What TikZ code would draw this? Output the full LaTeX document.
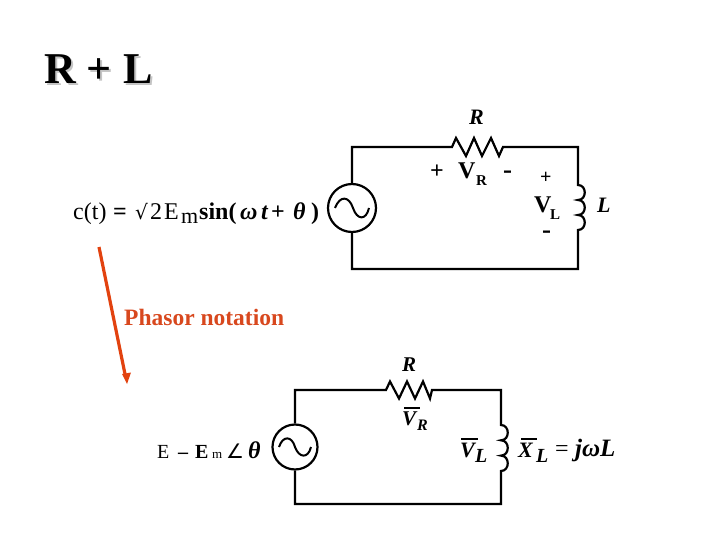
\documentclass[tikz,border=0pt]{standalone}
\usepackage{fontspec}
\setmainfont{Liberation Serif}
\newfontfamily\symfont{DejaVu Sans}
\definecolor{arrowred}{HTML}{E2420F}
\definecolor{phasor}{HTML}{D8481E}
\definecolor{shadowgray}{HTML}{C4C4C4}
\tikzset{
  wire/.style={line width=2.2pt,black,line join=miter},
  bar/.style={line width=1.1pt,black},
  lbl/.style={inner sep=0pt,anchor=base west,font=\fontsize{#1}{#1}\selectfont},
  lblb/.style={inner sep=0pt,anchor=base west,font=\fontsize{#1}{#1}\selectfont\bfseries},
  lbli/.style={inner sep=0pt,anchor=base west,font=\fontsize{#1}{#1}\selectfont\bfseries\itshape},
  srccirc/.style={circle,draw,line width=2.2pt,inner sep=0pt,minimum size=#1}
}
\begin{document}
\begin{tikzpicture}[x=1pt,y=-1pt]
\useasboundingbox (0,0) rectangle (720,540);
% title
\node[lblb=44,text=shadowgray] at (46,86) {R + L};
\node[lblb=44] (title) at (44,84) {R + L};

% upper circuit
\node[srccirc=48pt] (s1) at (352,208) {};
\coordinate (tl1) at (351,147);
\coordinate (bl1) at (351,269);
\coordinate (tr1) at (578,147);
\coordinate (br1) at (578,269);
\coordinate (r1a) at (452,147);
\coordinate (r1b) at (503,147);
\coordinate (l1a) at (578,185);
\coordinate (l1b) at (578,230);
\draw[wire] (s1.north) -- (s1.north |- tl1) -- (r1a)
  -- (456,138) -- (466,156) -- (474,138) -- (482,156) -- (491,138) -- (499,156) -- (r1b)
  -- (tr1) -- (l1a)
  .. controls (587,185) and (587,200) .. (578,200)
  .. controls (587,200) and (587,215) .. (578,215)
  .. controls (587,215) and (587,230) .. (l1b)
  -- (br1) -- (s1.south |- br1) -- (s1.south);
\draw[line width=2pt] (335,208) .. controls (340,195) and (349,196) .. (353,208)
  .. controls (357,220) and (366,221) .. (369,208);
\node[lbli=22] (R1) at (469,125) {R};
\node[lblb=24] (p1) at (430,179) {+};
\node[lblb=24] (VR1) at (458,179) {V};
\node[lblb=15] (VRs) at (476,186) {R};
\node[lblb=27] (m1) at (503,179) {-};
\node[lblb=20] (p2) at (540,184) {+};
\node[lblb=24] (VL1) at (534,213) {V};
\node[lblb=15] (VLs) at (550,219) {L};
\node[lblb=27] (m2) at (542,238) {-};
\node[lbli=22] (L1) at (597,212) {L};

% upper equation
\node[lbl=24] (c) at (73,219) {c(t)};
\node[lblb=24] (eq) at (113,219) {=};
\node[lbl=20] (rt) at (135,219) {\symfont\fontsize{20}{20}\selectfont √};
\node[lbl=24] (two) at (150,219) {2};
\node[lbl=24] (E) at (164,219) {E};
\node[lbl=22] (m) at (181,223) {m};
\node[lblb=24] (sin) at (199,219) {sin(};
\node[lbli=24] (om) at (240,219) {ω};
\node[lbli=24] (t) at (261,219) {t};
\node[lblb=24] (pl) at (271,219) {+};
\node[lbli=24] (th) at (293,219) {θ};
\node[lblb=24] (cp) at (311,219) {)};

% phasor arrow and label
\coordinate (a1) at (99,247);
\coordinate (a2) at (127,384);
\draw[arrowred,line width=3.2pt] (a1) -- (125.6,377);
\fill[arrowred] (a2) -- (122,374) -- (131,372.5) -- cycle;
\node[lblb=23.5,text=phasor] (ph) at (124,325) {Phasor notation};

% lower circuit
\node[srccirc=45pt] (s2) at (295,447) {};
\coordinate (tl2) at (295,390);
\coordinate (bl2) at (295,504);
\coordinate (tr2) at (501,390);
\coordinate (br2) at (501,504);
\coordinate (r2a) at (386,390);
\coordinate (r2b) at (432,390);
\coordinate (l2a) at (501,425);
\coordinate (l2b) at (501,471);
\draw[wire] (s2.north) -- (tl2) -- (r2a)
  -- (390,381.5) -- (399,398.5) -- (407,381.5) -- (415,398.5) -- (423,381.5) -- (430,398.5) -- (r2b)
  -- (tr2) -- (l2a)
  .. controls (510,425) and (510,440.3) .. (501,440.3)
  .. controls (510,440.3) and (510,455.6) .. (501,455.6)
  .. controls (510,455.6) and (510,471) .. (l2b)
  -- (br2) -- (bl2) -- (s2.south);
\draw[line width=2pt] (279,447) .. controls (283,435) and (292,436) .. (295,447)
  .. controls (299,458) and (308,459) .. (311,447);
\node[lbli=21] (R2) at (402,371) {R};
\node[lbli=21] (VR2) at (402,425) {V};
\draw[bar] (404,408) -- (420,408);
\node[lbli=16] (VR2s) at (417,430) {R};
\node[lbli=22] (VL2) at (460,457) {V};
\draw[bar] (461,439) -- (478,439);
\node[lbli=20] (VL2s) at (475,462) {L};
\node[lbli=22] (X2) at (518,457) {X};
\draw[bar] (521,439) -- (537,439);
\node[lbli=20] (X2s) at (536,462) {L};
\node[lbl=24] (eq2) at (555,456) {=};
\node[lbli=25] (jw) at (575,456) {jωL};

% lower equation
\node[lbl=20] (E2) at (157,458) {E};
\node[lblb=20] (eq3) at (178,458) {–};
\node[lblb=20] (E3) at (195,458) {E};
\node[lbl=13] (m3) at (212,458) {m};
\node[lbl=22] (ang) at (226,458) {\symfont\fontsize{20}{20}\selectfont ∠};
\node[lbli=24] (th2) at (248,458) {θ};
\end{tikzpicture}
\end{document}
